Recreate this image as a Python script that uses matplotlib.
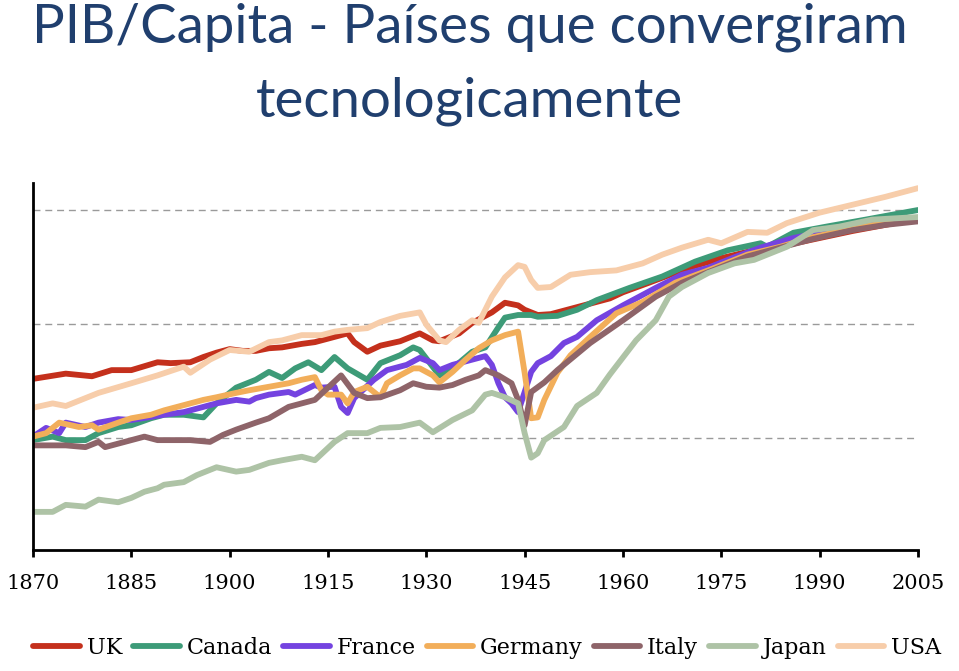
import numpy as np
import matplotlib.pyplot as plt

# log of GDP per capita
uk_years = [1870, 1875, 1879, 1882, 1885, 1889, 1891, 1894, 1896, 1898, 1900, 1902, 1904, 1906,
            1908, 1911, 1913, 1916, 1918, 1919, 1921, 1923, 1926, 1929, 1931, 1932, 1935, 1937,
            1940, 1942, 1944, 1945, 1947, 1949, 1951, 1955, 1958, 1960, 1964, 1970, 1975, 1980,
            1985, 1990, 1995, 2000, 2005]
uk_lgdp = [8.07, 8.13, 8.10, 8.17, 8.17, 8.26, 8.25, 8.26, 8.32, 8.37, 8.41, 8.39, 8.39, 8.42,
           8.43, 8.47, 8.49, 8.55, 8.59, 8.49, 8.38, 8.45, 8.50, 8.59, 8.51, 8.50, 8.59, 8.71,
           8.83, 8.94, 8.91, 8.86, 8.80, 8.81, 8.85, 8.93, 8.99, 9.06, 9.17, 9.34, 9.45, 9.54,
           9.60, 9.68, 9.76, 9.83, 9.90]

canada_years = [1870, 1873, 1875, 1878, 1880, 1883, 1885, 1888, 1890, 1893, 1896, 1898, 1901,
                1904, 1906, 1908, 1910, 1912, 1914, 1916, 1918, 1921, 1923, 1926, 1928, 1929,
                1932, 1934, 1937, 1939, 1941, 1942, 1944, 1946, 1947, 1950, 1953, 1956, 1961,
                1966, 1971, 1976, 1981, 1982, 1986, 1991, 1997, 2005]
canada_lgdp = [7.37, 7.41, 7.37, 7.37, 7.45, 7.52, 7.54, 7.62, 7.66, 7.66, 7.63, 7.79, 7.97,
               8.06, 8.15, 8.08, 8.19, 8.26, 8.17, 8.32, 8.19, 8.06, 8.25, 8.34, 8.43, 8.40,
               8.11, 8.19, 8.38, 8.43, 8.66, 8.77, 8.80, 8.80, 8.78, 8.79, 8.86, 8.97, 9.11,
               9.24, 9.41, 9.54, 9.62, 9.58, 9.74, 9.81, 9.89, 10.00]

france_years = [1870, 1872, 1874, 1875, 1878, 1880, 1883, 1885, 1890, 1893, 1896, 1898, 1901,
                1903, 1904, 1906, 1909, 1910, 1913, 1914, 1916, 1917, 1918, 1919, 1920, 1922,
                1924, 1927, 1929, 1931, 1932, 1934, 1935, 1937, 1939, 1940, 1941, 1942, 1943,
                1944, 1946, 1947, 1949, 1951, 1953, 1956, 1960, 1965, 1969, 1973, 1977, 1981,
                1986, 1990, 1995, 2000, 2005]
france_lgdp = [7.41, 7.51, 7.45, 7.57, 7.52, 7.57, 7.61, 7.60, 7.66, 7.69, 7.75, 7.79, 7.83,
               7.81, 7.85, 7.89, 7.92, 7.89, 8.00, 7.97, 7.98, 7.75, 7.68, 7.85, 7.92, 8.06,
               8.17, 8.23, 8.31, 8.25, 8.17, 8.23, 8.25, 8.29, 8.33, 8.23, 8.02, 7.86, 7.79,
               7.69, 8.15, 8.25, 8.33, 8.48, 8.55, 8.74, 8.91, 9.11, 9.26, 9.34, 9.46, 9.57,
               9.68, 9.74, 9.80, 9.86, 9.90]

germany_years = [1870, 1872, 1874, 1877, 1879, 1880, 1883, 1885, 1888, 1890, 1893, 1896, 1898,
                 1901, 1903, 1906, 1909, 1911, 1913, 1914, 1915, 1917, 1918, 1919, 1921, 1923,
                 1924, 1926, 1928, 1929, 1931, 1932, 1934, 1936, 1938, 1940, 1942, 1944, 1945,
                 1946, 1947, 1948, 1950, 1952, 1955, 1959, 1963, 1968, 1973, 1979, 1984, 1989,
                 1995, 2000, 2005]
germany_lgdp = [7.41, 7.45, 7.57, 7.52, 7.54, 7.49, 7.57, 7.62, 7.66, 7.71, 7.77, 7.83, 7.86,
                7.91, 7.94, 7.98, 8.02, 8.06, 8.09, 7.94, 7.89, 7.89, 7.79, 7.92, 7.98, 7.86,
                8.02, 8.11, 8.19, 8.19, 8.11, 8.03, 8.15, 8.29, 8.42, 8.51, 8.57, 8.61, 8.14,
                7.62, 7.63, 7.83, 8.14, 8.34, 8.55, 8.82, 8.95, 9.17, 9.31, 9.49, 9.58, 9.69,
                9.79, 9.85, 9.89]

italy_years = [1870, 1873, 1875, 1878, 1880, 1881, 1884, 1887, 1889, 1892, 1894, 1897, 1899,
               1901, 1904, 1906, 1909, 1911, 1913, 1915, 1917, 1919, 1921, 1923, 1926, 1928,
               1930, 1932, 1934, 1936, 1938, 1939, 1941, 1943, 1944, 1945, 1946, 1948, 1950,
               1955, 1960, 1965, 1969, 1973, 1979, 1984, 1989, 1995, 2000, 2005]
italy_lgdp = [7.31, 7.31, 7.31, 7.29, 7.35, 7.29, 7.35, 7.41, 7.37, 7.37, 7.37, 7.35, 7.43,
              7.49, 7.57, 7.62, 7.75, 7.79, 7.83, 7.97, 8.11, 7.91, 7.85, 7.86, 7.94, 8.02,
              7.98, 7.97, 8.00, 8.06, 8.11, 8.17, 8.11, 8.02, 7.83, 7.54, 7.92, 8.03, 8.17,
              8.48, 8.74, 9.01, 9.17, 9.29, 9.47, 9.57, 9.67, 9.77, 9.83, 9.87]

japan_years = [1870, 1873, 1875, 1878, 1880, 1883, 1885, 1887, 1889, 1890, 1893, 1895, 1898,
               1901, 1903, 1906, 1908, 1911, 1913, 1916, 1918, 1921, 1923, 1926, 1929, 1931,
               1934, 1937, 1939, 1940, 1942, 1944, 1945, 1946, 1947, 1948, 1951, 1953, 1956,
               1958, 1962, 1965, 1967, 1969, 1973, 1977, 1980, 1985, 1989, 1993, 1998, 2005]
japan_lgdp = [6.55, 6.55, 6.63, 6.61, 6.69, 6.66, 6.71, 6.78, 6.82, 6.86, 6.89, 6.97, 7.06,
              7.01, 7.03, 7.11, 7.14, 7.18, 7.14, 7.35, 7.45, 7.45, 7.51, 7.52, 7.57, 7.46,
              7.60, 7.71, 7.89, 7.91, 7.86, 7.79, 7.45, 7.17, 7.22, 7.37, 7.52, 7.76, 7.91,
              8.12, 8.51, 8.74, 9.01, 9.12, 9.28, 9.39, 9.43, 9.58, 9.77, 9.81, 9.89, 9.92]

usa_years = [1870, 1873, 1875, 1880, 1885, 1889, 1893, 1894, 1897, 1900, 1903, 1906, 1908,
             1911, 1914, 1916, 1918, 1921, 1923, 1926, 1929, 1930, 1932, 1933, 1935, 1937,
             1938, 1940, 1942, 1944, 1945, 1946, 1947, 1949, 1952, 1955, 1959, 1963, 1966,
             1969, 1973, 1975, 1979, 1982, 1985, 1990, 1995, 2000, 2005]
usa_lgdp = [7.74, 7.79, 7.76, 7.91, 8.02, 8.11, 8.21, 8.14, 8.29, 8.40, 8.38, 8.49, 8.51,
            8.57, 8.57, 8.61, 8.63, 8.65, 8.72, 8.79, 8.83, 8.69, 8.51, 8.49, 8.63, 8.74,
            8.71, 9.01, 9.23, 9.37, 9.35, 9.20, 9.11, 9.12, 9.26, 9.29, 9.31, 9.39, 9.49,
            9.57, 9.66, 9.62, 9.75, 9.74, 9.85, 9.97, 10.06, 10.15, 10.25]

countries = ["UK", "Canada", "France", "Germany", "Italy", "Japan", "USA"]
colors = ["#C4301C", "#3D9B78", "#7443E0", "#F2AE5A", "#8E6469", "#AEC3A6", "#F7CDAA"]
all_years = [uk_years, canada_years, france_years, germany_years, italy_years, japan_years, usa_years]
all_vals = [uk_lgdp, canada_lgdp, france_lgdp, germany_lgdp, italy_lgdp, japan_lgdp, usa_lgdp]

grid_levels = [7.4, 8.7, 10.0]
tick_years = list(range(1870, 2006, 15))

fig = plt.figure(figsize=(9.59, 6.71), dpi=100)
ax = fig.add_axes([0.0344, 0.1803, 0.9228, 0.547])

for g in grid_levels:
    ax.axhline(g, color="#9a9a9a", lw=1.0, ls=(0, (5, 3.5)), zorder=0)

for name, yrs, vals, col in zip(countries, all_years, all_vals, colors):
    ax.plot(yrs, vals, color=col, lw=4.2, label=name,
            solid_capstyle="round", solid_joinstyle="round")

ax.set_xlim(1870, 2005)
ax.set_ylim(6.114, 10.309)
ax.set_yticks([])
ax.set_xticks(tick_years)
ax.set_xticklabels([str(t) for t in tick_years], family="DejaVu Serif", fontsize=15)
ax.tick_params(axis="x", direction="out", length=5, width=2, pad=12, colors="black")
for s in ["top", "right"]:
    ax.spines[s].set_visible(False)
for s in ["left", "bottom"]:
    ax.spines[s].set_linewidth(2)
    ax.spines[s].set_color("black")
    ax.spines[s].set_zorder(5)

fig.legend(loc="center", bbox_to_anchor=(0.508, 0.034), ncol=7, frameon=False,
           prop={"family": "DejaVu Serif", "size": 16}, handlelength=2.1,
           handletextpad=0.3, columnspacing=0.5)

fig.text(0.49, 0.997, "PIB/Capita - Países que convergiram\ntecnologicamente",
         ha="center", va="top", fontsize=39.3, color="#203F6E", family="Lato",
         linespacing=1.62)

fig.savefig("out.png", dpi=100)
